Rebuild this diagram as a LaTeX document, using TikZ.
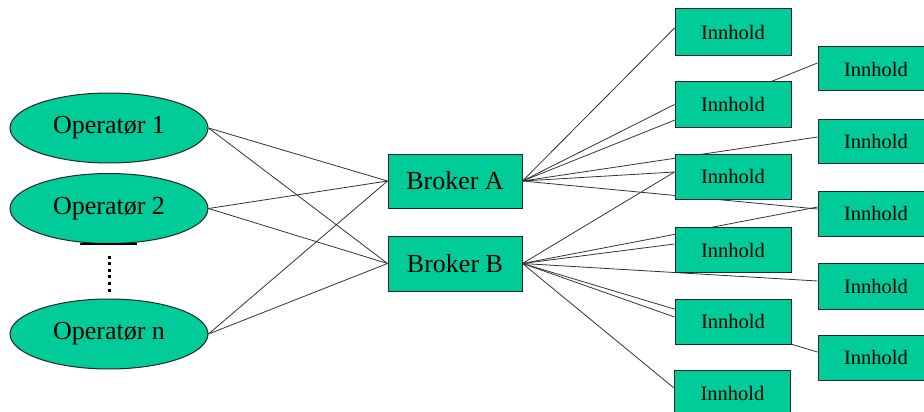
\documentclass[tikz,border=0pt]{standalone}
\usepackage{fontspec}
\setmainfont{Liberation Serif}
\usetikzlibrary{shapes.geometric,backgrounds}
\definecolor{boxgreen}{HTML}{00CC99}
\tikzset{
  operator/.style={ellipse, draw=black!85, line width=1pt, fill=boxgreen,
    minimum width=198pt, minimum height=70pt, inner sep=0pt,
    font=\fontsize{26}{30}\selectfont},
  broker/.style={rectangle, draw=black!85, line width=1pt, fill=boxgreen,
    minimum width=134pt, minimum height=54pt, inner sep=0pt,
    font=\fontsize{26}{30}\selectfont},
  content/.style={rectangle, draw=black!85, line width=1pt, fill=boxgreen,
    minimum width=116pt, minimum height=45pt, inner sep=0pt,
    font=\fontsize{20.5}{24}\selectfont},
  link/.style={draw=black!80, line width=0.8pt}
}
\begin{document}
\begin{tikzpicture}[x=1pt, y=-1pt]
  \useasboundingbox (0,0) rectangle (924,412);
  \clip (0,0) rectangle (924,412);

  % operators
  \node[operator] (op1) at (109,128) {Operatør 1};
  \node[operator] (op2) at (109,208.5) {Operatør 2};
  \node[operator] (opn) at (109,334) {Operatør n};

  % brokers
  \node[broker] (bA) at (455,181) {Broker A};
  \node[broker, minimum height=55pt] (bB) at (455,263.5) {Broker B};

  % content, inner column
  \node[content, minimum height=47pt] (i1) at (733,32.5) {Innhold};
  \node[content] (i2) at (733,104.5) {Innhold};
  \node[content] (i3) at (733,176.5) {Innhold};
  \node[content] (i4) at (733,250) {Innhold};
  \node[content] (i5) at (733,321.5) {Innhold};
  \node[content] (i6) at (732.5,393) {Innhold};

  % content, outer column
  \node[content, minimum height=44pt] (r1) at (876,69) {Innhold};
  \node[content, minimum height=44pt] (r2) at (876,141) {Innhold};
  \node[content] (r3) at (876,213.5) {Innhold};
  \node[content, minimum height=46pt] (r4) at (876,286) {Innhold};
  \node[content] (r5) at (876,357.5) {Innhold};

  % thick stroke under Operatør 2
  \draw[line width=2pt] (80,244.2) -- (137,244.2);

  % vertical ellipsis between operators
  \foreach \k in {0,...,5}
    \fill (107.5,255.5+6.6*\k) rectangle ++(3,3);

  \begin{scope}[on background layer]
    % operators to brokers
    \foreach \o in {op1,op2,opn}{
      \path[link] (\o.east) -- (bA.west);
      \path[link] (\o.east) -- (bB.west);
    }
    % Broker A to content
    \path[link] (bA.east) -- ([yshift=4.5pt]i1.west);
    \path[link] (bA.east) -- (i2.west);
    \path[link] (bA.east) -- ([yshift=6pt]r1.west);
    \path[link] (bA.east) -- ([yshift=4pt]r2.west);
    \path[link] (bA.east) -- ([yshift=4.5pt]i3.west);
    \path[link] (bA.east) -- ([yshift=4.5pt]r3.west);
    % Broker B to content
    \path[link] (bB.east) -- ([yshift=4.5pt]i3.west);
    \path[link] (bB.east) -- ([yshift=6.5pt]r3.west);
    \path[link] (bB.east) -- ([yshift=6pt]i4.west);
    \path[link] (bB.east) -- ([yshift=5pt]r4.west);
    \path[link] (bB.east) -- ([yshift=5.5pt]r5.west);
    \path[link] (bB.east) -- ([yshift=4.5pt]i5.west);
    \path[link] (bB.east) -- ([yshift=5pt]i6.west);
  \end{scope}
\end{tikzpicture}
\end{document}
